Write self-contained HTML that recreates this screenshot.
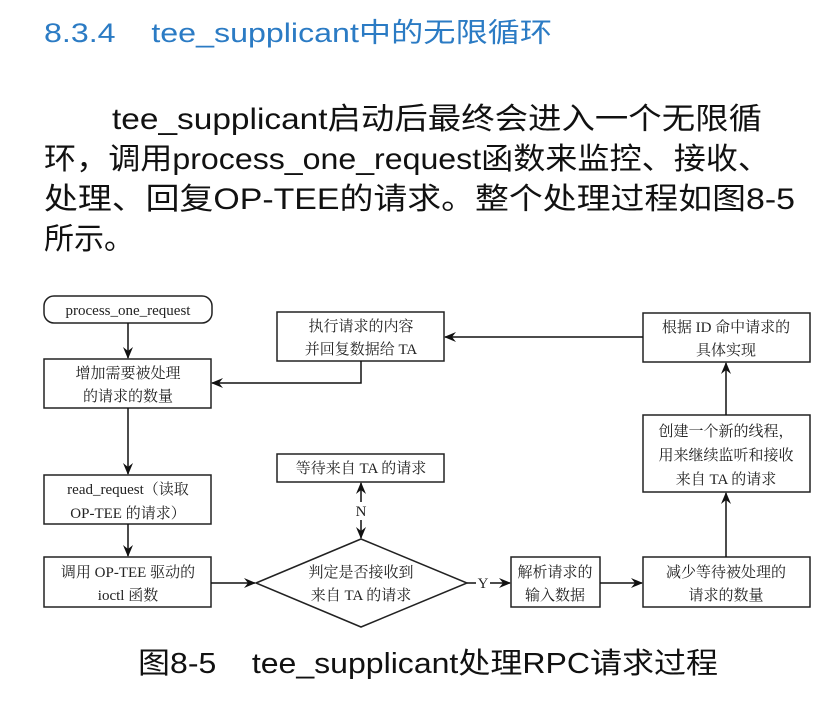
<!DOCTYPE html>
<html><head><meta charset="utf-8"><style>
html,body{margin:0;padding:0;background:#fff;}
svg{display:block;}
.t{font-family:"Liberation Sans","Noto Sans CJK SC",sans-serif;}
.d{font-family:"Liberation Serif","Noto Serif CJK SC",serif;font-size:15px;fill:#222;}
</style></head><body>
<svg width="839" height="703" viewBox="0 0 839 703" xmlns="http://www.w3.org/2000/svg">
<defs><marker id="a" markerWidth="12" markerHeight="10" refX="11" refY="5" orient="auto" markerUnits="userSpaceOnUse"><path d="M0,0 L12,5 L0,10 L4,5 z" fill="#111"/></marker></defs>
<text class="t" x="44" y="42" font-size="27" fill="#2b7bc4" textLength="508" lengthAdjust="spacingAndGlyphs">8.3.4&#160;&#160;&#160;&#160;tee_supplicant中的无限循环</text>
<g class="t" font-size="30" fill="#111">
<text x="112" y="129" textLength="650" lengthAdjust="spacingAndGlyphs">tee_supplicant启动后最终会进入一个无限循</text>
<text x="44" y="169" textLength="726" lengthAdjust="spacingAndGlyphs">环，调用process_one_request函数来监控、接收、</text>
<text x="44" y="209" textLength="751" lengthAdjust="spacingAndGlyphs">处理、回复OP-TEE的请求。整个处理过程如图8-5</text>
<text x="44" y="249">所示。</text>
<text x="138" y="673" font-size="29" textLength="580" lengthAdjust="spacingAndGlyphs">图8-5&#160;&#160;&#160;&#160;tee_supplicant处理RPC请求过程</text>
</g>
<g fill="#fff" stroke="#222" stroke-width="1.5">
<rect x="44" y="296" width="168" height="27" rx="10"/>
<rect x="44" y="359" width="167" height="49"/>
<rect x="44" y="475" width="167" height="49"/>
<rect x="44" y="557" width="167" height="50"/>
<rect x="277" y="312" width="167" height="49"/>
<rect x="277" y="454" width="167" height="28"/>
<polygon points="256,583 361,539 467,583 361,627"/>
<rect x="511" y="557" width="89" height="50"/>
<rect x="643" y="557" width="167" height="50"/>
<rect x="643" y="415" width="167" height="77"/>
<rect x="643" y="313" width="167" height="49"/>
</g>
<g stroke="#111" stroke-width="1.5" fill="none" marker-end="url(#a)">
<line x1="128" y1="323" x2="128" y2="358"/>
<line x1="128" y1="408" x2="128" y2="474"/>
<line x1="128" y1="524" x2="128" y2="556"/>
<line x1="211" y1="583" x2="255" y2="583"/>
<polyline points="361,361 361,383 212,383"/>
<line x1="643" y1="337" x2="445" y2="337"/>
<line x1="726" y1="415" x2="726" y2="363"/>
<line x1="726" y1="557" x2="726" y2="493"/>
<line x1="600" y1="583" x2="642" y2="583"/>
<line x1="490" y1="583" x2="510" y2="583"/>
<line x1="361" y1="502" x2="361" y2="483"/>
<line x1="361" y1="520" x2="361" y2="538"/>
</g>
<line x1="467" y1="583" x2="476" y2="583" stroke="#111" stroke-width="1.5"/>
<g class="d" text-anchor="middle">
<text x="128" y="315">process_one_request</text>
<text x="128" y="378">增加需要被处理</text><text x="128" y="401">的请求的数量</text>
<text x="128" y="494">read_request（读取</text><text x="128" y="518">OP-TEE 的请求）</text>
<text x="128" y="577">调用 OP-TEE 驱动的</text><text x="128" y="600">ioctl 函数</text>
<text x="361" y="331">执行请求的内容</text><text x="361" y="354">并回复数据给 TA</text>
<text x="361" y="473">等待来自 TA 的请求</text>
<text x="361" y="516">N</text>
<text x="361" y="577">判定是否接收到</text><text x="361" y="600">来自 TA 的请求</text>
<text x="483" y="588">Y</text>
<text x="555" y="577">解析请求的</text><text x="555" y="600">输入数据</text>
<text x="726" y="577">减少等待被处理的</text><text x="726" y="600">请求的数量</text>
<text x="726" y="436">创建一个新的线程，</text><text x="726" y="460">用来继续监听和接收</text><text x="726" y="484">来自 TA 的请求</text>
<text x="726" y="332">根据 ID 命中请求的</text><text x="726" y="355">具体实现</text>
</g>
</svg>
</body></html>
